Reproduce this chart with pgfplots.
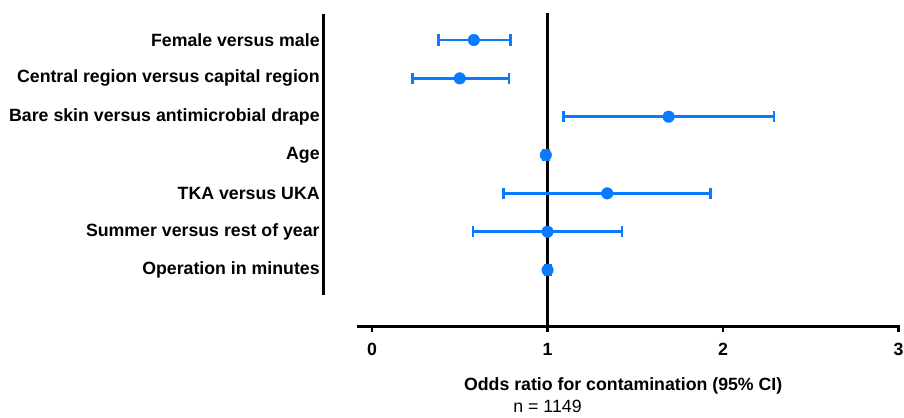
\documentclass[border=0pt]{standalone}
\usepackage{fontspec}
\setmainfont{Liberation Sans}
\usepackage{pgfplots}
\usepackage{pgfplotstable}
\pgfplotsset{compat=1.18}
\definecolor{bl}{RGB}{10,122,255}
\pgfplotstableread{
x y ep em
0.58 7 0.21 0.20
0.50 6 0.28 0.27
1.69 5 0.60 0.60
0.99 4 0.015 0.015
1.34 3 0.59 0.59
1.00 2 0.425 0.425
1.00 1 0.015 0.015
}\data
\newcommand{\lf}{\fontsize{13.3}{15}\selectfont}
\begin{document}
\begin{tikzpicture}
\begin{axis}[
 scale only axis, width=407.5pt, height=234.6pt,
 xmin=-0.086, xmax=3.01, ymin=-0.46, ymax=7.7,
 axis x line*=bottom, axis y line*=left,
 y axis line style={draw=none},
 x axis line style={line width=2.25pt},
 xtick={0,1,2,3}, xticklabels={0,1,2,3},
 xticklabel style={font=\lf\bfseries, yshift=-5pt},
 major tick length=4.5pt, tick align=outside,
 xtick style={line width=1.9pt, black},
 ytick={1,...,7},
 yticklabels={Operation in minutes, Summer versus rest of year, TKA versus UKA, Age, Bare skin versus antimicrobial drape, Central region versus capital region, Female versus male},
 ytick style={draw=none},
 yticklabel style={font=\lf\bfseries, inner sep=0pt, xshift=-23.25pt},
 xlabel={Odds ratio for contamination (95\% CI)},
 xlabel style={font=\lf\bfseries, at={(axis description cs:0.49,0)}, anchor=center, yshift=-45pt},
 clip=false,
]
\coordinate (bbl) at (axis cs:-2.1197,-2.836);
\coordinate (btr) at (axis cs:3.031,8.044);
\draw[line width=1.9pt] (axis cs:1,-0.46) -- (axis cs:1,7.7);
\draw[line width=2.25pt] (axis cs:-0.279,0.35) -- (axis cs:-0.279,7.68);
\addplot[only marks, mark=*, mark size=4.3pt, color=bl,
  error bars/.cd, x dir=both, x explicit,
  error bar style={line width=2pt, color=bl},
  error mark options={rotate=90, line width=2pt, mark size=4.3pt, color=bl}]
  table[x=x, y=y, x error plus=ep, x error minus=em] {\data};
\node[font=\lf, inner sep=1pt] at (axis cs:1,-0.46) [yshift=-60.5pt] {n = 1149};
\end{axis}
\pgfresetboundingbox
\path (bbl) rectangle (btr);
\end{tikzpicture}
\end{document}
